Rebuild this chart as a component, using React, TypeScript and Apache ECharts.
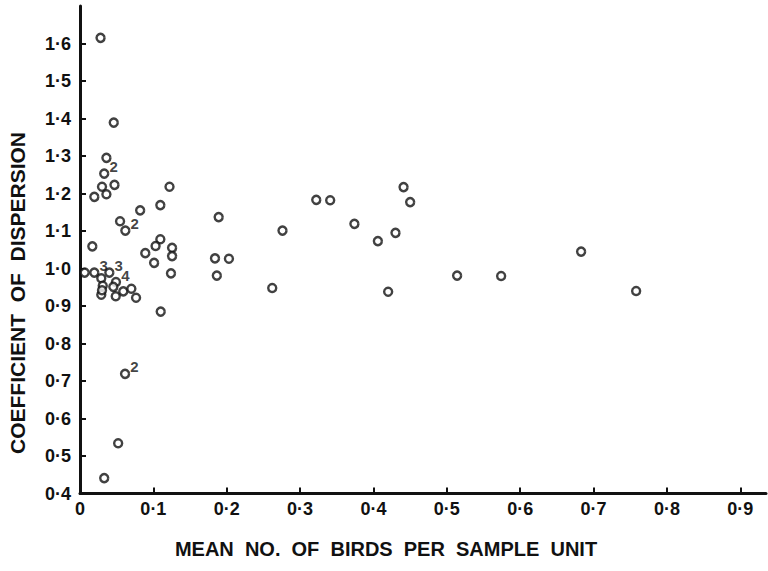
import React, { useEffect, useRef } from "react";
import * as echarts from "echarts";

// Mean number of birds per sample unit (x) and coefficient of dispersion (y)
const meanBirds: number[] = [
  0.028, 0.046, 0.036, 0.033, 0.047, 0.030, 0.036, 0.0195, 0.122, 0.082,
  0.1095, 0.0546, 0.0618, 0.0168, 0.1095, 0.103, 0.1255, 0.1255, 0.089, 0.101,
  0.124, 0.110,
  0.0064, 0.0195, 0.029, 0.040, 0.031, 0.049, 0.0454, 0.029, 0.0487, 0.059,
  0.070, 0.0764, 0.030,
  0.189, 0.322, 0.341, 0.441, 0.450, 0.374, 0.276, 0.430, 0.406, 0.184,
  0.203, 0.1865, 0.262, 0.420, 0.514, 0.683, 0.574, 0.758,
  0.0614, 0.052, 0.033,
];
const dispersion: number[] = [
  1.615, 1.389, 1.295, 1.253, 1.223, 1.218, 1.198, 1.191, 1.218, 1.155,
  1.169, 1.126, 1.101, 1.059, 1.078, 1.06, 1.055, 1.033, 1.041, 1.015,
  0.987, 0.885,
  0.989, 0.989, 0.974, 0.989, 0.954, 0.964, 0.951, 0.93, 0.926, 0.939,
  0.946, 0.922, 0.942,
  1.137, 1.183, 1.182, 1.217, 1.177, 1.119, 1.101, 1.095, 1.073, 1.027,
  1.026, 0.981, 0.948, 0.938, 0.981, 1.045, 0.98, 0.94,
  0.719, 0.534, 0.441,
];
// number of coincident observations (1 = single, unlabelled)
const counts: number[] = [
  1, 1, 1, 2, 1, 1, 1, 1, 1, 1,
  1, 1, 2, 1, 1, 1, 1, 1, 1, 1,
  1, 1,
  1, 3, 1, 3, 1, 4, 1, 1, 1, 1,
  1, 1, 1,
  1, 1, 1, 1, 1, 1, 1, 1, 1, 1,
  1, 1, 1, 1, 1, 1, 1, 1,
  2, 1, 1,
];

const xTickValues = [0, 0.1, 0.2, 0.3, 0.4, 0.5, 0.6, 0.7, 0.8, 0.9];
const xTickLabels = ["0", "0·1", "0·2", "0·3", "0·4", "0·5", "0·6", "0·7", "0·8", "0·9"];
const yTickValues = [0.4, 0.5, 0.6, 0.7, 0.8, 0.9, 1.0, 1.1, 1.2, 1.3, 1.4, 1.5, 1.6];
const yTickLabels = ["0·4", "0·5", "0·6", "0·7", "0·8", "0·9", "1·0", "1·1", "1·2", "1·3", "1·4", "1·5", "1·6"];

const xTitle = "MEAN  NO.  OF  BIRDS  PER  SAMPLE  UNIT";
const yTitle = "COEFFICIENT  OF  DISPERSION";

const INK = "#111";
const FONT = "'Liberation Sans', Arial, sans-serif";

function labelFor(values: number[], labels: string[], v: number): string {
  for (let i = 0; i < values.length; i++) {
    if (Math.abs(values[i] - v) < 1e-6) return labels[i];
  }
  return "";
}

export default function App() {
  const ref = useRef<HTMLDivElement>(null);
  useEffect(() => {
    if (!ref.current) return;
    const chart = echarts.init(ref.current, null, { renderer: "svg" });
    const data = meanBirds.map((x, i) => {
      const item: any = { value: [x, dispersion[i]] };
      if (counts[i] > 1) {
        item.label = {
          show: true,
          formatter: String(counts[i]),
          position: "right",
          distance: 0,
          offset: [0, -7],
          color: INK,
          fontSize: 15,
          fontWeight: "bold",
          fontFamily: FONT,
        };
      }
      return item;
    });
    chart.setOption({
      animation: false,
      backgroundColor: "#fff",
      grid: { left: 80, right: 2, top: 6, bottom: 77.5, containLabel: false },
      xAxis: {
        type: "value",
        min: 0,
        max: 0.935,
        splitLine: { show: false },
        axisLine: { show: true, onZero: false, lineStyle: { color: INK, width: 3 } },
        axisTick: {
          show: true,
          inside: true,
          length: 6,
          lineStyle: { color: INK, width: 2 },
          customValues: xTickValues.slice(1),
        },
        axisLabel: {
          show: true,
          customValues: xTickValues,
          formatter: (v: number) => labelFor(xTickValues, xTickLabels, v),
          color: INK,
          fontSize: 18,
          fontWeight: "bold",
          fontFamily: FONT,
          margin: 6,
        },
      },
      yAxis: {
        type: "value",
        min: 0.4,
        max: 1.7,
        splitLine: { show: false },
        axisLine: { show: true, onZero: false, lineStyle: { color: INK, width: 3 } },
        axisTick: {
          show: true,
          inside: true,
          length: 6,
          lineStyle: { color: INK, width: 2 },
          customValues: yTickValues.slice(1),
        },
        axisLabel: {
          show: true,
          customValues: yTickValues,
          formatter: (v: number) => labelFor(yTickValues, yTickLabels, v),
          color: INK,
          fontSize: 18,
          fontWeight: "bold",
          fontFamily: FONT,
          margin: 9,
          padding: [0, 0, 6, 0],
        },
      },
      graphic: [
        {
          type: "text",
          x: 386,
          y: 549,
          style: {
            text: xTitle,
            fill: INK,
            font: `bold 20px ${FONT}`,
            textAlign: "center",
            textVerticalAlign: "middle",
          },
        },
        {
          type: "text",
          x: 17,
          y: 293,
          rotation: Math.PI / 2,
          style: {
            text: yTitle,
            fill: INK,
            font: `bold 21px ${FONT}`,
            textAlign: "center",
            textVerticalAlign: "middle",
          },
        },
      ],
      series: [
        {
          type: "scatter",
          data,
          symbol: "circle",
          symbolSize: 8,
          itemStyle: { color: "#fff", borderColor: INK, borderWidth: 2.4 },
          emphasis: { disabled: true },
        },
      ],
    });
    return () => chart.dispose();
  }, []);
  return (
    <div
      ref={ref}
      style={{ position: "absolute", left: 0, top: 0, width: 768, height: 571, background: "#fff" }}
    />
  );
}
